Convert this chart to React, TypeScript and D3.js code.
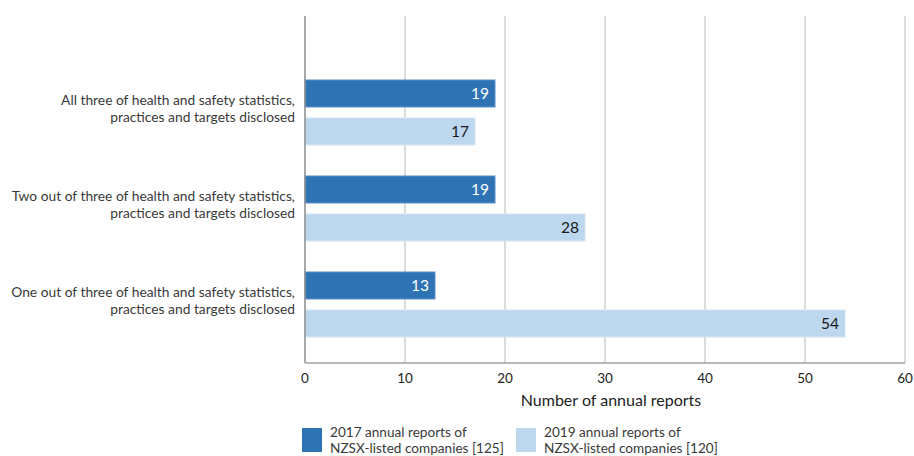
import React from "react";
import * as d3 from "d3";

// Health and safety disclosure in NZSX annual reports
const categories = [
  ["All three of health and safety statistics,", "practices and targets disclosed"],
  ["Two out of three of health and safety statistics,", "practices and targets disclosed"],
  ["One out of three of health and safety statistics,", "practices and targets disclosed"],
];
const seriesKeys = ["2017", "2019"];
const values2017 = [19, 19, 13];
const values2019 = [17, 28, 54];
const legendLabels = [
  ["2017 annual reports of", "NZSX-listed companies [125]"],
  ["2019 annual reports of", "NZSX-listed companies [120]"],
];
const xTicks = [0, 10, 20, 30, 40, 50, 60];
const xAxisTitle = "Number of annual reports";

const W = 914;
const H = 456;
const FONT = "Lato, 'Noto Sans', sans-serif";
const COLORS: Record<string, string> = { "2017": "#2e74b5", "2019": "#bdd7ee" };
const LABEL_COLORS: Record<string, string> = { "2017": "#ffffff", "2019": "#1a1a1a" };

export default function App() {
  const plotLeft = 305;
  const plotRight = 905;
  const plotTop = 16;
  const plotBottom = 363;

  const x = d3.scaleLinear().domain([0, 60]).range([plotLeft, plotRight]);
  const y = d3
    .scaleBand<number>()
    .domain(d3.range(categories.length))
    .range([64.5, 352.5])
    .padding(0);
  const groupH = 65;
  const inner = d3
    .scaleBand<string>()
    .domain(seriesKeys)
    .range([0, groupH])
    .paddingInner(0.29);

  const rows = categories.map((c, i) => ({
    label: c,
    vals: { "2017": values2017[i], "2019": values2019[i] } as Record<string, number>,
  }));

  return (
    <svg
      width={W}
      height={H}
      style={{ position: "absolute", left: 0, top: 0, background: "#fff" }}
      fontFamily={FONT}
    >
      {/* gridlines */}
      {xTicks.slice(1).map((t) => (
        <line
          key={t}
          x1={x(t)}
          x2={x(t)}
          y1={plotTop}
          y2={plotBottom}
          stroke="#dcdcdc"
          strokeWidth={2}
        />
      ))}

      {/* bars */}
      {rows.map((r, i) => {
        const cy = (y(i) as number) + y.bandwidth() / 2;
        const gTop = cy - groupH / 2;
        return (
          <g key={i}>
            {seriesKeys.map((k) => {
              const by = gTop + (inner(k) as number);
              const v = r.vals[k];
              return (
                <g key={k}>
                  <rect
                    x={x(0)}
                    y={by}
                    width={x(v) - x(0)}
                    height={inner.bandwidth()}
                    fill={COLORS[k]}
                    stroke={k === "2017" ? "#5a90c8" : "#d3e4f4"}
                    strokeWidth={1}
                  />
                  <text
                    x={x(v) - 6}
                    y={by + inner.bandwidth() / 2}
                    dy="0.36em"
                    textAnchor="end"
                    fontSize={15.5}
                    fill={LABEL_COLORS[k]}
                  >
                    {v}
                  </text>
                </g>
              );
            })}
            <text textAnchor="end" fontSize={13.8} fill="#3a3a3a">
              <tspan x={295} y={cy - 7.5}>
                {r.label[0]}
              </tspan>
              <tspan x={295} y={cy + 9}>
                {r.label[1]}
              </tspan>
            </text>
          </g>
        );
      })}

      {/* axes */}
      <line x1={plotLeft} x2={plotLeft} y1={plotTop} y2={plotBottom} stroke="#8c8c8c" strokeWidth={1.5} />
      <line x1={plotLeft} x2={plotRight} y1={plotBottom} y2={plotBottom} stroke="#a0a0a0" strokeWidth={1.5} />
      {xTicks.map((t) => (
        <text key={t} x={x(t)} y={383} textAnchor="middle" fontSize={13.5} fill="#222">
          {t}
        </text>
      ))}
      <text x={611} y={406} textAnchor="middle" fontSize={16} fill="#222">
        {xAxisTitle}
      </text>

      {/* legend */}
      {seriesKeys.map((k, i) => {
        const lx = i === 0 ? 302 : 516;
        return (
          <g key={k}>
            <rect x={lx} y={428} width={20} height={24} fill={COLORS[k]} />
            <text fontSize={13.6} fill="#3a3a3a">
              <tspan x={lx + 28} y={437}>
                {legendLabels[i][0]}
              </tspan>
              <tspan x={lx + 28} y={453}>
                {legendLabels[i][1]}
              </tspan>
            </text>
          </g>
        );
      })}
    </svg>
  );
}
